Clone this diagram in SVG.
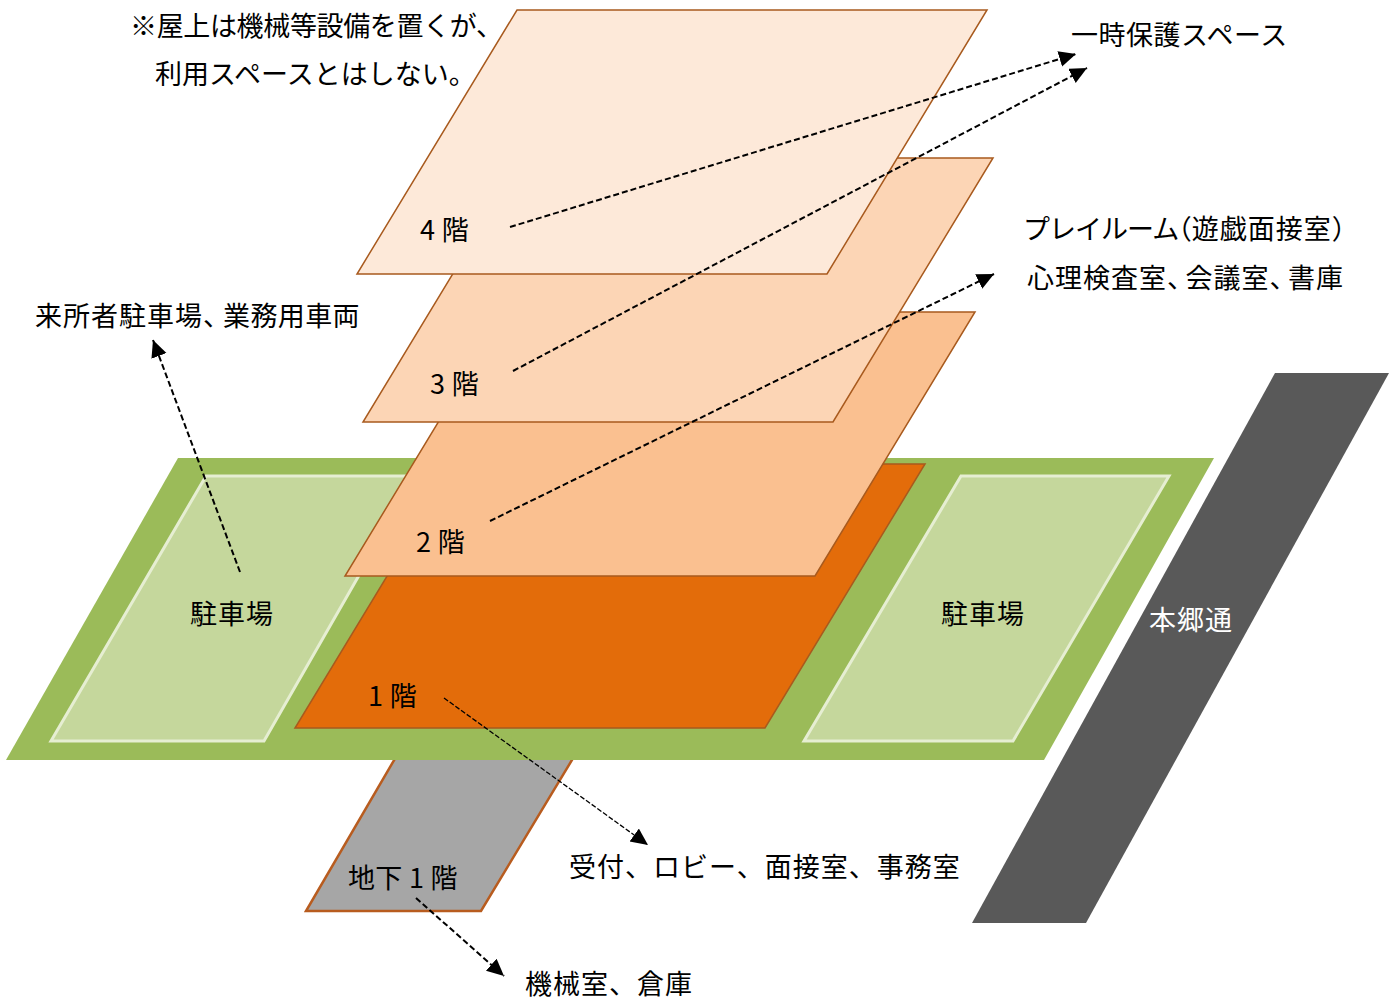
<svg xmlns="http://www.w3.org/2000/svg" width="1397" height="1001" viewBox="0 0 1397 1001">
<style>
text{font-family:"Noto Sans CJK JP","Liberation Sans",sans-serif;font-size:27px;fill:#000;letter-spacing:1px}
.fl{stroke:#a85a1e;stroke-width:1.5}
.p{fill:#c5d79c;stroke:#e6eed2;stroke-width:3}
.c{fill:none;stroke:#000;stroke-width:2;stroke-dasharray:6 3;marker-end:url(#a)}
.n{letter-spacing:.3px}
.h{font-feature-settings:"halt"}
</style>
<defs><marker id="a" markerUnits="userSpaceOnUse" markerWidth="20" markerHeight="18" refX="17" refY="8" orient="auto"><path d="M0 0L17 8L0 16Z" fill="#000"/></marker></defs>
<rect width="1397" height="1001" fill="#fff"/>
<g id="road"><polygon points="1275,373 1389,373 1086,923 972,923" fill="#595959"/><text x="1149" y="630" style="fill:#fff">本郷通</text></g>
<g id="b1"><polygon points="400,750 578,750 481,911 306,911" fill="#a6a6a6" stroke="#b85c1f" stroke-width="2.5"/><text x="348" y="888" class="n">地下 1 階</text></g>
<g id="site"><polygon points="178,458 1214,458 1044,760 6,760" fill="#9bbb59"/></g>
<g id="parking-left"><polygon points="206,476 416,476 264,741 51,741" class="p"/><text x="190" y="624">駐車場</text></g>
<g id="parking-right"><polygon points="961,476 1169,476 1013,741 804,741" class="p"/><text x="941" y="624">駐車場</text></g>
<g id="f1"><polygon points="455,464 925,464 765,728 295,728" fill="#e36c0a" class="fl"/><text x="368" y="706" class="n">1 階</text></g>
<g id="f2"><polygon points="505,312 975,312 815,576 345,576" fill="#fac090" class="fl"/><text x="416" y="552" class="n">2 階</text></g>
<g id="f3"><polygon points="523,158 993,158 833,422 363,422" fill="#fcd5b5" class="fl"/><text x="430" y="394" class="n">3 階</text></g>
<g id="f4"><polygon points="517,10 987,10 827,274 357,274" fill="#fde9d9" class="fl"/><text x="420" y="240" class="n">4 階</text></g>
<g id="connectors">
<path class="c" d="M510 227L1076 54"/>
<path class="c" d="M513 371L1087 68"/>
<path class="c" d="M490 521L994 274"/>
<path class="c" d="M240 572L153 340"/>
<path class="c" d="M444 698L648 845" style="stroke-width:1.3;stroke-dasharray:5 2"/>
<path class="c" d="M416 898L504 976"/>
</g>
<g id="labels">
<text x="130" y="36" style="letter-spacing:-.35px">※屋上は機械等設備を置くが、</text>
<text x="155" y="84" style="letter-spacing:0">利用スペースとはしない。</text>
<text x="1071" y="45" style="letter-spacing:.5px">一時保護スペース</text>
<text x="1023" y="239" style="letter-spacing:-1px">プレイルーム<tspan class="h" style="letter-spacing:0">（</tspan><tspan style="letter-spacing:1px">遊戯面接室</tspan><tspan class="h">）</tspan></text>
<text x="1027" y="288">心理検査室<tspan class="h" style="letter-spacing:5px">、</tspan>会議室<tspan class="h" style="letter-spacing:5px">、</tspan>書庫</text>
<text x="35" y="326">来所者駐車場<tspan class="h" style="letter-spacing:6.5px">、</tspan><tspan style="letter-spacing:.4px">業務用車両</tspan></text>
<text x="569" y="877">受付、ロビー、面接室、事務室</text>
<text x="525" y="994">機械室、倉庫</text>
</g>
</svg>
